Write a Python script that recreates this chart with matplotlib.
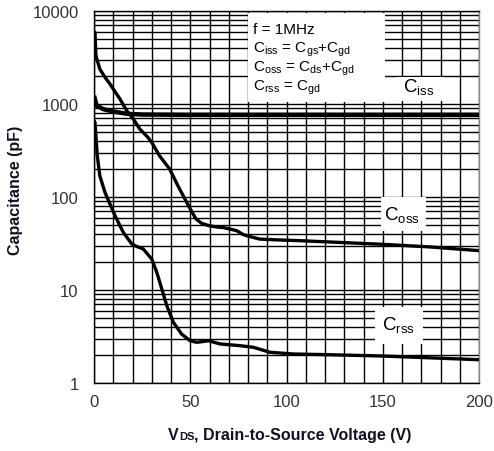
import matplotlib
matplotlib.use("Agg")
import matplotlib.pyplot as plt
from matplotlib.patches import Rectangle
from matplotlib.offsetbox import TextArea, HPacker, AnchoredOffsetbox
from matplotlib.ticker import FixedLocator, LogLocator, NullFormatter

plt.rcParams["font.family"] = ["Liberation Sans", "DejaVu Sans"]
plt.rcParams["mathtext.fontset"] = "custom"
plt.rcParams["mathtext.rm"] = "Liberation Sans"
plt.rcParams["mathtext.it"] = "Liberation Sans"

# Capacitance vs. drain-to-source voltage (f = 1 MHz)
v_ciss = [0, 1.4, 4.8, 10, 17, 25, 50, 100, 150, 200]
c_ciss = [1230, 960, 880, 830, 785, 770, 765, 765, 765, 765]

v_coss = [0, 0.5, 1, 3, 5.7, 8.3, 10, 13.5, 17, 20.4, 23.8, 28, 30, 34, 39.3,
          43.6, 49, 53, 56, 60, 64, 67, 70, 74, 77.5, 80, 86, 95, 107, 120,
          150, 175, 200]
c_coss = [6000, 5900, 3310, 2380, 1940, 1640, 1450, 1130, 848, 690, 538, 438,
          387, 278, 200, 132, 81, 58, 52, 49, 47.5, 47, 45.5, 43.5, 39.5, 38,
          35.3, 34.6, 33.9, 33, 31, 29, 26.5]

v_crss = [0, 0.5, 1, 1.7, 3, 5.7, 8.3, 10.9, 15.2, 19.5, 22, 25.6, 30, 32.6,
          35.2, 37.8, 41.2, 45.5, 49.9, 53.3, 56, 59.4, 65.5, 75.8, 82.8, 91.4,
          103.5, 120, 150, 200]
c_crss = [660, 635, 456, 278, 170, 112, 84, 63, 41.7, 31.5, 29.5, 27.6, 21.5,
          15.5, 10.3, 6.8, 4.5, 3.36, 2.85, 2.74, 2.78, 2.85, 2.63, 2.52, 2.42,
          2.14, 2.05, 2.02, 1.95, 1.78]

x_ticks = [0, 50, 100, 150, 200]
y_ticks = [1, 10, 100, 1000, 10000]
y_ticklabels = ["1", "10", "100", "1000", "10000"]

fig = plt.figure(figsize=(4.94, 4.52), dpi=100)
ax = fig.add_axes([94 / 494, 1 - 384 / 452, 385 / 494, 372 / 452])
ax.set_yscale("log")
ax.set_xlim(0, 200)
ax.set_ylim(1, 10000)
ax.set_axisbelow(True)

ax.xaxis.set_major_locator(FixedLocator(x_ticks))
ax.xaxis.set_minor_locator(FixedLocator(range(0, 201, 10)))
ax.yaxis.set_major_locator(FixedLocator(y_ticks))
ax.yaxis.set_minor_locator(LogLocator(base=10, subs=range(2, 10)))
ax.yaxis.set_minor_formatter(NullFormatter())
ax.set_xticklabels([str(t) for t in x_ticks])
ax.set_yticklabels(y_ticklabels)
ax.grid(True, which="both", color="black", linewidth=1.0)
ax.tick_params(which="both", length=0, labelsize=12, colors="#333333")
ax.tick_params(axis="y", pad=11)
ax.tick_params(axis="x", pad=8)
for s in ax.spines.values():
    s.set_color("black")
    s.set_linewidth(1.0)
ax.spines["right"].set_color("#888888")

line_kw = dict(color="black", solid_joinstyle="round", solid_capstyle="butt", zorder=3)
ax.plot(v_ciss, c_ciss, linewidth=3.2, **line_kw)
ax.plot(v_coss, c_coss, linewidth=2.4, **line_kw)
ax.plot(v_crss, c_crss, linewidth=2.4, **line_kw)

# white panels for the condition note and curve names
def panel(x0, x1, y0, y1):
    ax.add_patch(Rectangle((x0, y0), x1 - x0, y1 - y0, transform=ax.transAxes,
                           facecolor="white", edgecolor="none", zorder=1))

panel(0.40, 0.756, 0.755, 0.995)
panel(0.785, 0.91, 0.758, 0.823)
panel(0.745, 0.862, 0.409, 0.5)
panel(0.73, 0.855, 0.105, 0.205)

note = [r"f = 1MHz",
        r"$\mathregular{C_{iss}}$ = $\mathregular{C_{gs}}$+$\mathregular{C_{gd}}$",
        r"$\mathregular{C_{oss}}$ = $\mathregular{C_{ds}}$+$\mathregular{C_{gd}}$",
        r"$\mathregular{C_{rss}}$ = $\mathregular{C_{gd}}$"]
for txt, yf in zip(note, [0.952, 0.898, 0.848, 0.797]):
    ax.text(0.412, yf, txt, transform=ax.transAxes, fontsize=11,
            va="center", ha="left", zorder=4)

for txt, xf, yf in [(r"$\mathregular{C_{iss}}$", 0.842, 0.798),
                    (r"$\mathregular{C_{oss}}$", 0.80, 0.455),
                    (r"$\mathregular{C_{rss}}$", 0.79, 0.158)]:
    ax.text(xf, yf, txt, transform=ax.transAxes, fontsize=13.5,
            va="center", ha="center", zorder=4)

label_color = "#111122"
fig.text(0.032, 1 - 190 / 452, "Capacitance (pF)", rotation=90, fontsize=11.5,
         fontweight="bold", va="center", ha="center", color=label_color)

parts = [TextArea("V", textprops=dict(fontsize=11.5, fontweight="bold", color=label_color)),
         TextArea("DS", textprops=dict(fontsize=8, fontweight="bold", color=label_color)),
         TextArea(", Drain-to-Source Voltage (V)",
                  textprops=dict(fontsize=11.5, fontweight="bold", color=label_color))]
packed = HPacker(children=parts, align="baseline", pad=0, sep=0)
xlabel = AnchoredOffsetbox(loc="center", child=packed, pad=0, borderpad=0,
                           frameon=False, bbox_to_anchor=(290 / 494, 1 - 436 / 452),
                           bbox_transform=fig.transFigure)
fig.add_artist(xlabel)

fig.savefig("out.png", dpi=100, facecolor="white")
